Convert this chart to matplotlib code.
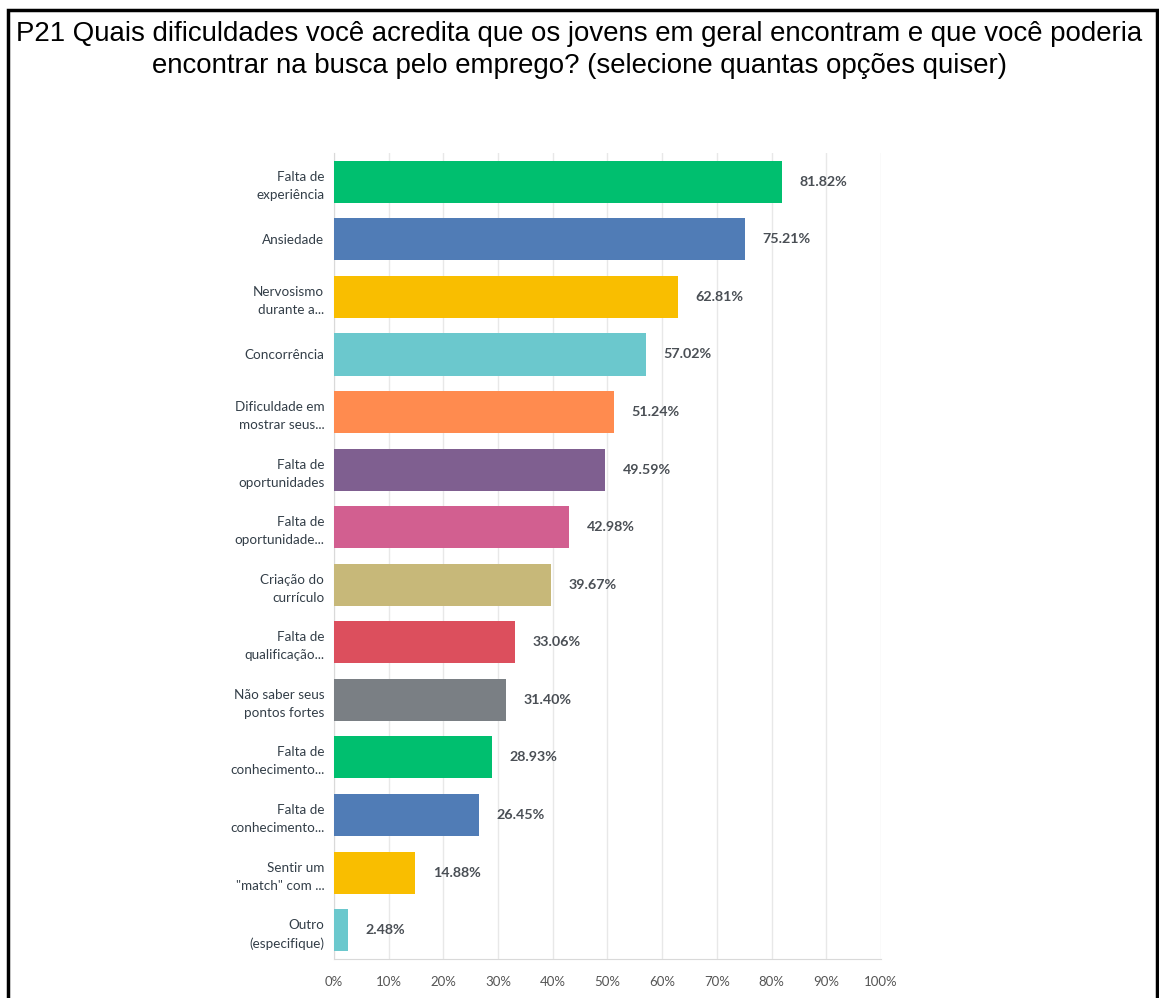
import matplotlib.pyplot as plt
from matplotlib.patches import Rectangle

categories = [
    "Falta de\nexperiência",
    "Ansiedade",
    "Nervosismo\ndurante a...",
    "Concorrência",
    "Dificuldade em\nmostrar seus...",
    "Falta de\noportunidades",
    "Falta de\noportunidade...",
    "Criação do\ncurrículo",
    "Falta de\nqualificação...",
    "Não saber seus\npontos fortes",
    "Falta de\nconhecimento...",
    "Falta de\nconhecimento...",
    "Sentir um\n\"match\" com ...",
    "Outro\n(especifique)",
]
values = [81.82, 75.21, 62.81, 57.02, 51.24, 49.59, 42.98, 39.67, 33.06, 31.40, 28.93, 26.45, 14.88, 2.48]
colors = ["#00BF6F", "#507CB6", "#F9BE00", "#6BC8CD", "#FF8B4F", "#7F5F90", "#D25F90",
          "#C7B879", "#DC4F5D", "#7A7F84", "#00BF6F", "#507CB6", "#F9BE00", "#6BC8CD"]
xticks = list(range(0, 101, 10))
xtick_labels = [f"{t}%" for t in xticks]

title = ("P21 Quais dificuldades você acredita que os jovens em geral encontram e que você poderia\n"
         "encontrar na busca pelo emprego? (selecione quantas opções quiser)")

fig = plt.figure(figsize=(11.59, 9.98), dpi=100)
ax = fig.add_axes([0.2882, 0.0391, 0.4719, 0.8076])

pos = list(range(len(categories)))
ax.barh(pos, values, height=0.73, color=colors, zorder=3)
for p, v in zip(pos, values):
    ax.text(v + 3.2, p, f"{v:.2f}%", va="center", ha="left", fontsize=10.3,
            fontweight="bold", color="#4a4f55", family="Lato")

ax.set_ylim(len(categories) - 0.5, -0.5)
ax.set_xlim(0, 100)
ax.set_yticks(pos)
ax.set_yticklabels(categories, fontsize=9.7, color="#333e48", family="Lato", linespacing=1.6)
ax.set_xticks(xticks)
ax.set_xticklabels(xtick_labels, fontsize=9.5, color="#555", family="Lato")
ax.tick_params(axis="both", length=0)
ax.tick_params(axis="y", pad=7)
ax.tick_params(axis="x", pad=12)
ax.grid(axis="x", color="#e8e8e8", linewidth=1, zorder=0)
for s in ["top", "right"]:
    ax.spines[s].set_visible(False)
for s in ["left", "bottom"]:
    ax.spines[s].set_color("#d9d9d9")

fig.text(0.5, 0.950, title, ha="center", va="center", fontsize=19.9,
         family="Liberation Sans", color="black", linespacing=1.33)

# frame around the whole panel, open at the bottom
fig.patches.append(Rectangle((8 / 1159, -0.05), 1149 / 1159, 1.04, transform=fig.transFigure,
                             fill=False, edgecolor="black", linewidth=2.5))

fig.savefig("out.png", dpi=100)
